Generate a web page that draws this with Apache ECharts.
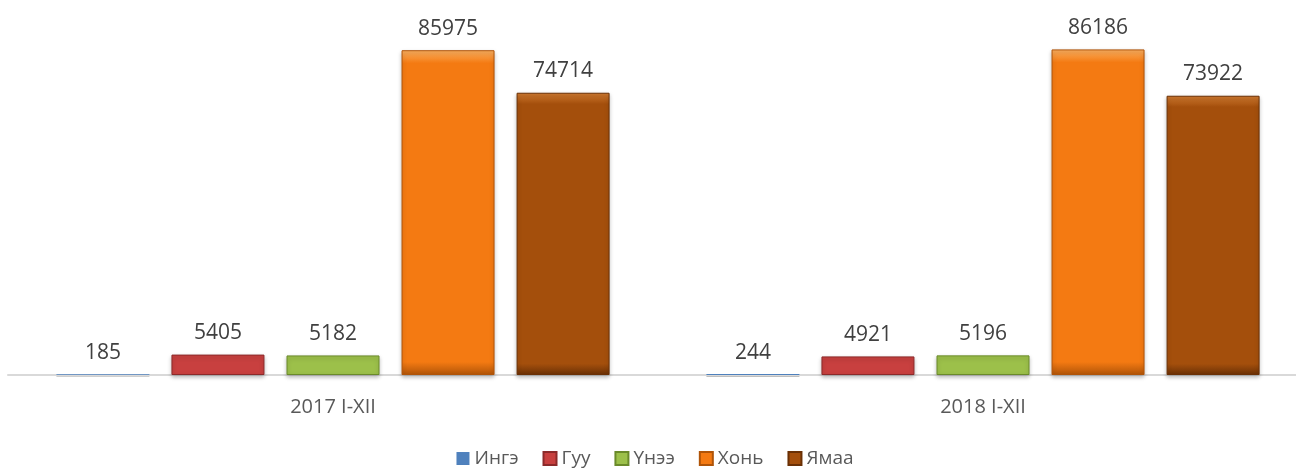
<!DOCTYPE html>
<html>
<head>
<meta charset="utf-8">
<script src="https://cdn.jsdelivr.net/npm/echarts@6/dist/echarts.min.js"></script>
<style>
	html,body{margin:0;padding:0;background:#fff;overflow:hidden;}
</style>
</head>
<body>
<div id="mainChart" style="width:1310px;height:468px"></div>
<script>
	var categories = ['2017 I-XII', '2018 I-XII'];
	var seriesNames = ['Ингэ', 'Гуу', 'Үнээ', 'Хонь', 'Ямаа'];
	var ingeData = [185, 244];
	var guuData = [5405, 4921];
	var uneeData = [5182, 5196];
	var khonData = [85975, 86186];
	var yamaaData = [74714, 73922];

	var seriesData = [ingeData, guuData, uneeData, khonData, yamaaData];
	// main colour, light top, dark edge
	var colors = [
		['#4f81bd', '#8fb4e3', '#2c5a8f'],
		['#c8403f', '#f08a8a', '#8c2a2a'],
		['#9cc04a', '#d8f08a', '#6a8a2a'],
		['#f47a12', '#fbb060', '#b05408'],
		['#a44f0c', '#d07a30', '#6a3005']
	];

	var series = seriesData.map(function (d, i) {
		return {
			name: seriesNames[i],
			type: 'bar',
			data: d,
			barWidth: 93,
			barGap: '23.7%',
			itemStyle: {
				color: {
					type: 'linear', x: 0, y: 0, x2: 0, y2: 1,
					colorStops: [
						{ offset: 0, color: colors[i][1] },
						{ offset: 0.04, color: colors[i][0] },
						{ offset: 0.96, color: colors[i][0] },
						{ offset: 1, color: colors[i][2] }
					]
				},
				borderColor: colors[i][2],
				borderWidth: i === 0 ? 0 : 1,
				shadowColor: 'rgba(0,0,0,0.25)',
				shadowBlur: i === 0 ? 0 : 4,
				shadowOffsetY: 2
			},
			label: {
				show: true,
				position: 'top',
				distance: 11,
				color: '#404040',
				fontSize: 21,
				fontFamily: 'Open Sans'
			}
		};
	});

	var chart = echarts.init(document.getElementById('mainChart'));
	chart.setOption({
		animation: false,
		color: colors.map(function (c) { return c[0]; }),
		grid: { left: 8, right: 2, top: 35, bottom: 93 },
		legend: {
			bottom: -5,
			left: 'center',
			itemWidth: 13,
			itemHeight: 13,
			itemGap: 24,
			icon: 'rect',
			textStyle: { color: '#595959', fontSize: 19, fontFamily: 'Open Sans' },
			data: seriesNames
		},
		xAxis: {
			type: 'category',
			data: categories,
			axisTick: { show: false },
			axisLine: { lineStyle: { color: '#d9d9d9', width: 2 } },
			axisLabel: { color: '#595959', fontSize: 20, margin: 22, fontFamily: 'Open Sans' }
		},
		yAxis: {
			type: 'value',
			min: 0,
			max: 90000,
			show: false,
			splitLine: { show: false }
		},
		series: series
	});
</script>
</body>
</html>
